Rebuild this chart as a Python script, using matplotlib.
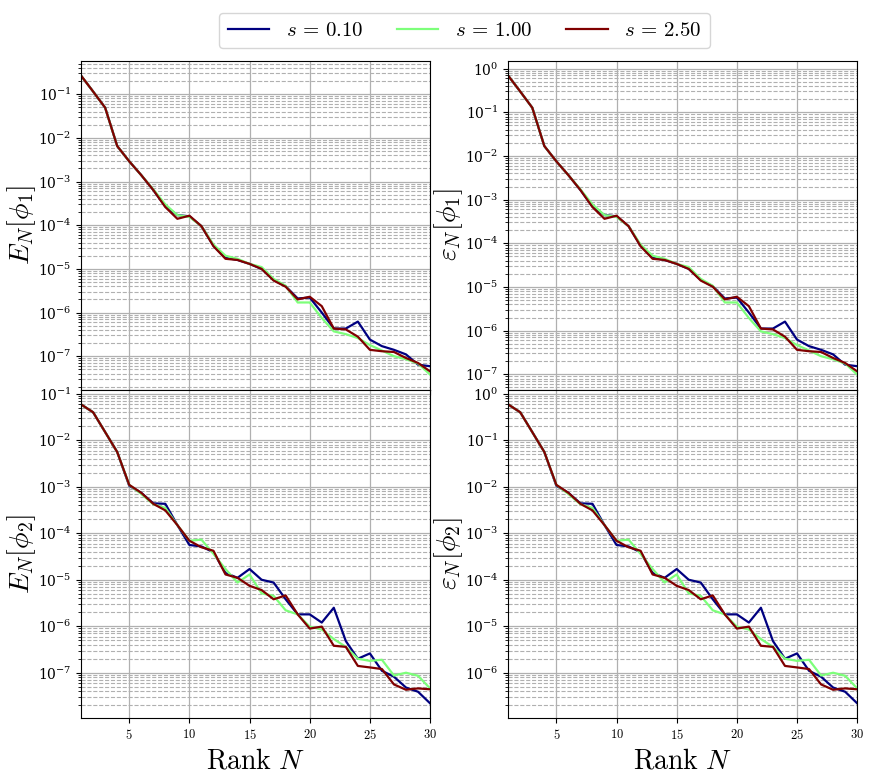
import numpy as np
import matplotlib
matplotlib.use("Agg")
from matplotlib import pyplot as plt
from matplotlib.ticker import FuncFormatter

plt.rcParams['mathtext.fontset'] = 'cm'
plt.rcParams['font.family'] = 'serif'

rank = np.arange(1, 31)
s_values = [0.10, 1.00, 2.50]

# absolute errors E_N[phi_1], one list per s
E1_s010 = [0.265, 0.115, 0.049, 0.0065, 0.0029, 0.0014, 6.4e-4, 2.7e-4, 1.7e-4, 1.6e-4,
           9.5e-5, 3.4e-5, 1.8e-5, 1.6e-5, 1.3e-5, 1.0e-5, 5.6e-6, 4.0e-6, 2.1e-6, 2.2e-6,
           1.0e-6, 4.3e-7, 4.3e-7, 6.2e-7, 2.4e-7, 1.7e-7, 1.4e-7, 1.1e-7, 6.4e-8, 5.9e-8]
E1_s100 = [0.265, 0.115, 0.049, 0.0065, 0.0029, 0.0014, 6.6e-4, 3.0e-4, 1.7e-4, 1.55e-4,
           9.5e-5, 3.6e-5, 2.0e-5, 1.7e-5, 1.3e-5, 1.1e-5, 5.9e-6, 4.1e-6, 1.7e-6, 1.7e-6,
           7.5e-7, 3.7e-7, 3.2e-7, 2.6e-7, 1.8e-7, 1.35e-7, 1.0e-7, 8.5e-8, 6.8e-8, 3.8e-8]
E1_s250 = [0.265, 0.115, 0.049, 0.0065, 0.0029, 0.0014, 6.4e-4, 2.6e-4, 1.4e-4, 1.65e-4,
           9.5e-5, 3.3e-5, 1.7e-5, 1.6e-5, 1.3e-5, 1.0e-5, 5.4e-6, 3.9e-6, 2.0e-6, 2.3e-6,
           1.4e-6, 4.3e-7, 4.1e-7, 2.8e-7, 1.4e-7, 1.3e-7, 1.25e-7, 9.1e-8, 7.0e-8, 4.5e-8]

# absolute errors E_N[phi_2]
E2_s010 = [0.059, 0.040, 0.015, 0.0056, 0.00105, 7.4e-4, 4.4e-4, 4.3e-4, 1.5e-4, 5.6e-5,
           5.2e-5, 3.9e-5, 1.4e-5, 1.1e-5, 1.7e-5, 1.0e-5, 8.7e-6, 3.8e-6, 1.8e-6, 1.8e-6,
           1.2e-6, 2.5e-6, 4.8e-7, 2.0e-7, 2.6e-7, 1.1e-7, 8.2e-8, 4.8e-8, 3.9e-8, 2.2e-8]
E2_s100 = [0.059, 0.040, 0.015, 0.0056, 0.0011, 7.0e-4, 4.2e-4, 3.5e-4, 1.5e-4, 6.9e-5,
           7.3e-5, 3.6e-5, 1.7e-5, 8.7e-6, 1.3e-5, 5.1e-6, 4.5e-6, 2.2e-6, 1.8e-6, 9.8e-7,
           8.5e-7, 5.3e-7, 3.6e-7, 2.0e-7, 1.8e-7, 1.9e-7, 8.7e-8, 1.0e-7, 8.6e-8, 4.6e-8]
E2_s250 = [0.059, 0.040, 0.015, 0.0056, 0.0011, 7.4e-4, 4.3e-4, 3.1e-4, 1.5e-4, 6.9e-5,
           5.0e-5, 4.2e-5, 1.3e-5, 1.1e-5, 7.4e-6, 6.0e-6, 3.8e-6, 4.6e-6, 1.8e-6, 8.9e-7,
           9.8e-7, 3.8e-7, 3.6e-7, 1.4e-7, 1.3e-7, 1.2e-7, 5.6e-8, 4.3e-8, 4.6e-8, 4.4e-8]

# norms used for the relative errors (read from the offset between columns)
norm_phi1 = 1.0 / 2.6
norm_phi2 = 0.1

E1 = [E1_s010, E1_s100, E1_s250]
E2 = [E2_s010, E2_s100, E2_s250]

colors = [plt.cm.jet(0.0), plt.cm.jet(0.5), plt.cm.jet(1.0)]

fig, axes = plt.subplots(2, 2, figsize=(8.72, 7.79), dpi=100, sharex='col')
fig.subplots_adjust(left=0.093, right=0.983, top=0.922, bottom=0.078,
                    hspace=0, wspace=0.224)

panels = [
    (axes[0, 0], E1, 1.0, r'$E_N[\phi_1]$'),
    (axes[0, 1], E1, norm_phi1, r'$\varepsilon_N[\phi_1]$'),
    (axes[1, 0], E2, 1.0, r'$E_N[\phi_2]$'),
    (axes[1, 1], E2, norm_phi2, r'$\varepsilon_N[\phi_2]$'),
]

for ax, data, norm, lab in panels:
    for s, ys, c in zip(s_values, data, colors):
        ax.semilogy(rank, np.array(ys) / norm, color=c, lw=1.6,
                    label=r'$s\,=\,%.2f$' % s)
    ax.set_xlim(1, 30)
    ax.set_ylabel(lab, fontsize=20, labelpad=0)
    ax.grid(which='major', ls='-', color='#b0b0b0', lw=0.9)
    ax.grid(which='minor', ls='--', color='#b0b0b0', lw=0.8)
    ax.tick_params(axis='y', labelsize=10)
    ax.tick_params(axis='x', labelsize=9)
    ax.set_xticks([5, 10, 15, 20, 25, 30])
    ax.xaxis.set_major_formatter(FuncFormatter(lambda v, p: r'$%d$' % v))

for ax in axes[1]:
    ax.set_xlabel(r'$\mathrm{Rank}\ N$', fontsize=20)

h, l = axes[0, 0].get_legend_handles_labels()
fig.legend(h, l, loc='upper center', bbox_to_anchor=(0.533, 0.997), ncol=3,
           fontsize=15, columnspacing=1.6)

plt.savefig("out.png", dpi=100)
plt.close()
